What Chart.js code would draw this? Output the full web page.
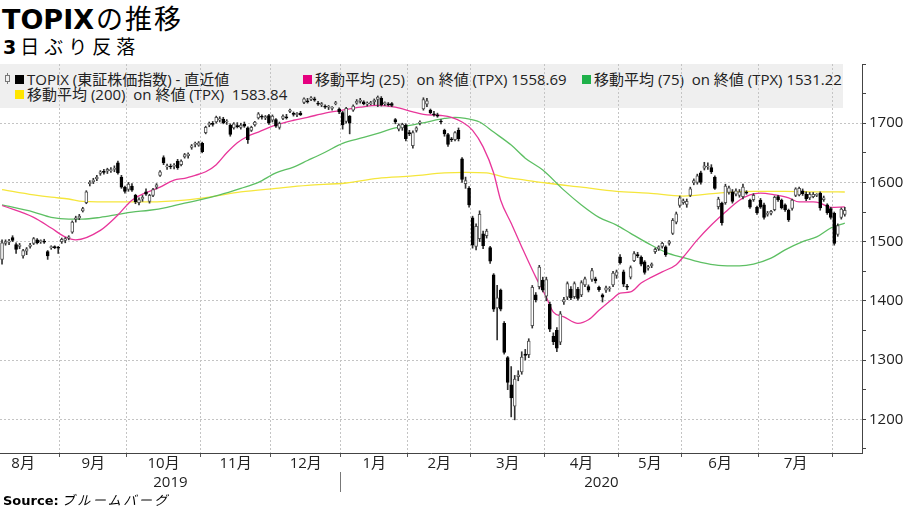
<!DOCTYPE html>
<html lang="ja">
<head>
<meta charset="utf-8">
<title>TOPIXの推移</title>
<script src="https://cdn.jsdelivr.net/npm/chart.js@4.4.1/dist/chart.umd.min.js"></script>
<style>
  html, body { margin: 0; padding: 0; background: #fff; }
  #wrap { position: relative; width: 909px; height: 511px; overflow: hidden;
          font-family: "Open Sans", "Noto Sans CJK JP", sans-serif; color: #000; }
  #title { position: absolute; left: 2px; top: 0px; font-size: 27px; line-height: 36px; white-space: nowrap; }
  #title b { font-family: "DejaVu Sans", sans-serif; font-weight: bold; }
  #title span { font-family: "Noto Sans CJK JP", sans-serif; letter-spacing: 2px; margin-left: 2px; }
  #subtitle { position: absolute; left: 3px; top: 33px; font-size: 19px; line-height: 26px; white-space: nowrap; }
  #subtitle b { font-family: "DejaVu Sans", sans-serif; font-weight: bold; }
  #subtitle span { font-family: "Noto Sans CJK JP", sans-serif; letter-spacing: 5px; margin-left: 4px; }
  #legendBox { position: absolute; left: 0; top: 64px; width: 843px; height: 44px; background: #efefef; }
  .lg { position: absolute; display: flex; align-items: center; font-size: 15px; line-height: 16px;
        white-space: nowrap; color: #222; }
  .sw { display: inline-block; width: 9px; height: 9px; margin-right: 3px; }
  .icon { position: absolute; left: 5px; top: 75px; width: 3px; height: 5px; border: 1px solid #777; }
  .icon::before, .icon::after { content: ""; position: absolute; left: 1px; width: 1px; height: 2px; background: #777; }
  .icon::before { top: -3px; }
  .icon::after { bottom: -3px; }
  #chart { position: absolute; left: 0; top: 0; }
  #source { position: absolute; left: 3px; top: 492px; font-size: 13px; line-height: 16px; white-space: nowrap; }
  #source b { font-family: "DejaVu Sans", sans-serif; }
  #source span { font-family: "Noto Sans CJK JP", sans-serif; font-style: italic; letter-spacing: 2.5px; margin-left: 3px; }
</style>
</head>
<body>
<div id="wrap">
  <div id="title"><b>TOPIX</b><span>の推移</span></div>
  <div id="subtitle"><b>3</b><span>日ぶり反落</span></div>

  <div id="legendBox"></div>
  <span class="icon"></span>
  <div class="lg" style="left:15px; top:71px;"><span class="sw" style="background:#000"></span>TOPIX (東証株価指数) - 直近値</div>
  <div class="lg" style="left:303px; top:71px;"><span class="sw" style="background:#e5007f"></span>移動平均 (25)&nbsp;&nbsp; on 終値 (TPX) 1558.69</div>
  <div class="lg" style="left:582px; top:71px;"><span class="sw" style="background:#1fb14a"></span>移動平均 (75)&nbsp; on 終値 (TPX) 1531.22</div>
  <div class="lg" style="left:15px; top:86px;"><span class="sw" style="background:#ffe500"></span>移動平均 (200)&nbsp; on 終値 (TPX)&nbsp; 1583.84</div>

  <canvas id="chart" width="909" height="511"></canvas>
  <div id="source"><b>Source:</b><span>ブルームバーグ</span></div>
</div>

<script>
// months shown on the axis, and how many trading days of each are in view
const monthLabels = ['8月', '9月', '10月', '11月', '12月', '1月', '2月', '3月', '4月', '5月', '6月', '7月'];
const monthDays = [17, 19, 21, 20, 20, 19, 18, 21, 21, 18, 22, 21, 4];
const firstMonthFullDays = 21;   // Aug 2019 is only partly visible
const yearLabels = ['2019', '2020'];

// price axis
const yTicks = [1150, 1200, 1250, 1300, 1350, 1400, 1450, 1500, 1550, 1600, 1650, 1700, 1750, 1800];
const yLabelled = [1200, 1300, 1400, 1500, 1600, 1700];

// daily candles [open, high, low, close], one per trading day
const candles = [
  // Aug 2019
  [1470,1503,1462,1498],[1497,1503,1494,1500],[1499,1504,1495,1501],[1507,1510,1500,1502],
  [1495,1498,1480,1487],[1492,1497,1488,1494],[1476,1487,1472,1485],[1484,1490,1478,1488],
  [1492,1497,1489,1494],[1497,1507,1495,1505],[1503,1505,1496,1498],[1500,1503,1497,1501],
  [1501,1504,1497,1499],[1483,1485,1470,1476],[1490,1493,1487,1491],[1491,1493,1488,1490],
  [1490,1492,1480,1489],
  // Sep
  [1500,1506,1497,1504],[1502,1507,1498,1505],[1506,1510,1503,1508],[1516,1535,1514,1533],
  [1538,1543,1533,1540],[1540,1546,1537,1543],[1552,1558,1550,1556],[1566,1586,1564,1584],
  [1598,1603,1594,1600],[1601,1607,1598,1604],[1606,1612,1603,1609],[1615,1620,1612,1618],
  [1618,1622,1614,1617],[1619,1624,1615,1622],[1620,1625,1617,1621],[1622,1628,1618,1624],
  [1633,1636,1614,1616],[1609,1612,1590,1592],[1592,1594,1582,1585],
  // Oct
  [1588,1600,1585,1597],[1594,1598,1585,1587],[1578,1580,1564,1567],[1566,1574,1562,1571],
  [1572,1578,1568,1575],[1584,1589,1578,1580],[1568,1580,1565,1578],[1578,1590,1576,1588],
  [1592,1598,1589,1596],[1612,1620,1610,1618],[1642,1645,1630,1633],[1626,1631,1622,1628],
  [1627,1631,1623,1626],[1627,1632,1623,1629],[1636,1639,1622,1625],[1630,1638,1628,1636],
  [1643,1649,1641,1647],[1645,1650,1641,1648],[1659,1664,1656,1662],[1664,1668,1660,1666],
  [1663,1669,1661,1667],
  // Nov
  [1666,1668,1650,1652],[1684,1695,1682,1693],[1697,1702,1694,1700],[1700,1703,1695,1698],
  [1702,1712,1700,1710],[1705,1711,1702,1708],[1707,1710,1699,1701],[1702,1706,1698,1703],
  [1697,1699,1678,1681],[1692,1701,1690,1699],[1696,1701,1692,1694],[1693,1700,1690,1697],
  [1698,1702,1693,1695],[1692,1694,1666,1672],[1688,1695,1686,1693],[1697,1703,1695,1702],
  [1709,1718,1707,1716],[1711,1714,1707,1710],[1709,1713,1706,1711],[1713,1715,1698,1700],
  // Dec
  [1705,1714,1702,1712],[1706,1708,1693,1695],[1693,1702,1690,1700],[1708,1714,1706,1712],
  [1710,1715,1707,1709],[1720,1724,1718,1722],[1716,1719,1712,1715],[1714,1718,1711,1717],
  [1717,1720,1713,1714],[1735,1743,1733,1741],[1738,1742,1734,1736],[1740,1745,1738,1743],
  [1741,1744,1737,1739],[1734,1737,1730,1732],[1731,1735,1728,1733],[1729,1731,1725,1727],
  [1727,1730,1723,1728],[1725,1728,1722,1726],[1733,1737,1731,1735],[1724,1726,1716,1719],
  // Jan 2020
  [1718,1720,1690,1697],[1703,1727,1700,1725],[1712,1713,1682,1700],[1722,1731,1720,1729],
  [1734,1740,1732,1737],[1737,1742,1734,1739],[1736,1738,1731,1733],[1732,1736,1729,1734],
  [1733,1737,1731,1735],[1736,1741,1731,1739],[1740,1746,1728,1744],[1742,1745,1729,1731],
  [1733,1736,1730,1734],[1732,1735,1729,1731],[1733,1735,1728,1730],[1706,1708,1699,1702],
  [1690,1699,1687,1697],[1692,1700,1688,1698],[1697,1699,1670,1674],
  // Feb
  [1684,1688,1679,1682],[1662,1687,1658,1684],[1688,1694,1685,1692],[1700,1704,1697,1702],
  [1724,1743,1722,1740],[1732,1742,1728,1738],[1722,1724,1716,1718],[1716,1720,1712,1714],
  [1714,1717,1710,1712],[1703,1706,1699,1702],[1688,1690,1678,1682],[1681,1683,1661,1664],
  [1673,1676,1669,1672],[1672,1686,1670,1684],[1688,1692,1670,1674],[1640,1642,1600,1605],
  [1598,1609,1590,1603],[1590,1593,1558,1562],
  // Mar
  [1540,1543,1489,1494],[1492,1530,1486,1526],[1505,1552,1500,1546],[1513,1518,1488,1493],
  [1510,1521,1506,1518],[1490,1492,1463,1467],[1444,1446,1382,1386],[1388,1426,1334,1405],
  [1418,1420,1383,1386],[1362,1365,1310,1313],[1304,1306,1250,1262],[1258,1289,1204,1236],
  [1222,1274,1199,1268],[1272,1282,1265,1275],[1280,1314,1276,1305],[1310,1318,1300,1308],
  [1309,1336,1304,1332],[1358,1426,1354,1423],[1410,1414,1398,1402],[1424,1460,1420,1457],
  [1435,1440,1415,1418],
  // Apr
  [1408,1440,1400,1436],[1394,1398,1348,1352],[1340,1346,1326,1331],[1350,1355,1314,1320],
  [1330,1382,1326,1378],[1398,1406,1394,1402],[1406,1432,1402,1429],[1420,1424,1402,1405],
  [1407,1432,1404,1429],[1420,1423,1401,1404],[1410,1434,1407,1431],[1427,1440,1424,1437],
  [1424,1427,1415,1418],[1436,1455,1433,1451],[1437,1440,1430,1434],[1423,1425,1416,1419],
  [1410,1412,1398,1406],[1418,1425,1414,1422],[1420,1424,1416,1421],[1427,1450,1424,1447],
  [1443,1452,1438,1449],
  // May
  [1474,1478,1462,1464],[1449,1452,1424,1428],[1425,1428,1419,1423],[1440,1459,1437,1456],
  [1468,1483,1466,1480],[1478,1482,1473,1476],[1474,1476,1459,1462],[1466,1468,1445,1448],
  [1455,1460,1452,1458],[1459,1464,1456,1462],[1483,1489,1480,1487],[1488,1493,1485,1491],
  [1492,1499,1489,1497],[1491,1493,1475,1478],[1497,1502,1494,1500],[1514,1539,1512,1536],
  [1533,1550,1530,1547],[1561,1577,1558,1574],
  // Jun
  [1566,1572,1563,1569],[1563,1572,1558,1568],[1578,1592,1576,1589],[1599,1606,1596,1603],
  [1600,1614,1597,1611],[1616,1619,1597,1600],[1624,1634,1621,1628],[1626,1633,1622,1627],
  [1625,1630,1615,1618],[1609,1611,1588,1590],[1559,1575,1555,1572],[1565,1567,1528,1532],
  [1566,1597,1563,1594],[1583,1594,1580,1591],[1584,1588,1565,1568],[1580,1589,1577,1586],
  [1578,1588,1575,1584],[1576,1597,1572,1592],[1583,1586,1580,1582],[1570,1572,1556,1558],
  [1571,1581,1568,1578],[1558,1560,1546,1549],
  // Jul
  [1570,1573,1556,1558],[1562,1565,1538,1541],[1546,1551,1543,1548],[1548,1553,1545,1551],
  [1554,1577,1552,1575],[1576,1578,1568,1571],[1570,1572,1555,1557],[1562,1564,1551,1554],
  [1553,1555,1534,1537],[1556,1572,1553,1570],[1578,1591,1576,1589],[1579,1592,1577,1590],
  [1586,1589,1578,1581],[1580,1584,1569,1572],[1574,1583,1571,1580],[1576,1583,1574,1580],
  [1578,1581,1576,1579],[1582,1584,1553,1557],[1571,1577,1568,1574],[1562,1564,1546,1549],
  [1556,1558,1538,1541],
  // Aug 2020
  [1548,1550,1494,1497],[1512,1530,1509,1527],[1541,1557,1538,1555],[1546,1558,1543,1553]
];

// moving averages: [trading-day index, value]
const ma25 = [
  [0,1561],[9,1541],[14,1523],[18,1508],[21,1503],[28,1519],[33,1545],[37,1570],[45,1592],
  [49,1604],[52,1607],[55,1612],[58,1618],[61,1630],[64,1650],[67,1667],[70,1678],[73,1685],
  [78,1697],[83,1705],[87,1710],[92,1717],[97,1722],[102,1727],[107,1730],[112,1727],
  [117,1719],[120,1715],[125,1713],[128,1710],[131,1702],[134,1688],[137,1660],[140,1616],
  [142,1570],[145,1531],[148,1491],[152,1440],[155,1406],[157,1381],[160,1373],[164,1362],
  [167,1368],[170,1384],[174,1404],[176,1413],[179,1415],[182,1430],[185,1440],[188,1449],
  [192,1461],[194,1474],[198,1503],[202,1528],[206,1550],[210,1570],[213,1579],[216,1582],
  [220,1579],[224,1574],[227,1567],[231,1567],[233,1565],[236,1558],[240,1558.69]
];
const ma75 = [
  [0,1562],[9,1550],[14,1541],[19,1538],[23,1538],[28,1541],[33,1546],[37,1550],[42,1553],
  [47,1558],[52,1565],[56,1570],[62,1579],[68,1590],[73,1600],[78,1616],[83,1626],[87,1637],
  [92,1651],[97,1666],[103,1676],[107,1683],[112,1692],[117,1697],[121,1702],[126,1708],
  [129,1710],[132,1708],[136,1702],[140,1685],[145,1663],[149,1641],[154,1621],[160,1587],
  [165,1562],[170,1541],[175,1528],[179,1514],[184,1497],[189,1482],[194,1473],[199,1465],
  [204,1460],[210,1459],[214,1462],[219,1472],[223,1486],[228,1500],[232,1508],[236,1523],
  [240,1531.22]
];
const ma200 = [
  [0,1588],[9,1579],[14,1575],[19,1572],[23,1568],[33,1567],[42,1567],[52,1570],[59,1575],
  [68,1584],[78,1590],[87,1595],[98,1599],[107,1607],[117,1611],[126,1616],[132,1617],
  [138,1616],[143,1609],[149,1604],[155,1599],[165,1592],[175,1585],[184,1582],[194,1577],
  [204,1582],[214,1585],[223,1585],[232,1584],[240,1583.84]
];

const X_MIN = -0.58;
const X_MAX = 244.9;

// month boundaries sit half a day before the first trading day of each month
const bounds = [];
let acc = 0;
monthDays.forEach((n, k) => {
    if (k > 0) bounds.push(acc - 0.5);
    acc += n;
});
const monthCenters = monthLabels.map((m, k) => {
    const start = k === 0 ? monthDays[0] - firstMonthFullDays - 0.5 : bounds[k - 1];
    return (start + bounds[k]) / 2;
});
const monthLabelAt = new Map(monthCenters.map((v, k) => [v, monthLabels[k]]));
const boundSet = new Set(bounds);
const monthTicks = [...bounds, ...monthCenters].sort((a, b) => a - b);

const yearBound = bounds[4];
const yearCenters = [(X_MIN + yearBound) / 2, (yearBound + X_MAX) / 2];
const yearLabelAt = new Map(yearCenters.map((v, k) => [v, yearLabels[k]]));

const tickFont = {family: '"Open Sans", "Noto Sans CJK JP", sans-serif', size: 15};

const isUp = ctx => ctx.raw && ctx.raw.y[1] >= ctx.raw.y[0];
const tickVal = ctx => (ctx.tick ? ctx.tick.value : NaN);

new Chart(document.getElementById('chart'), {
    type: 'bar',
    data: {
        datasets: [
            {
                label: 'body',
                data: candles.map((c, i) => ({x: i, y: [c[0], c[3]]})),
                backgroundColor: ctx => isUp(ctx) ? '#ffffff' : '#000000',
                borderColor: ctx => isUp(ctx) ? '#555555' : '#000000',
                borderWidth: 1,
                borderSkipped: false,
                barThickness: 3,
                minBarLength: 1,
                grouped: false,
                order: 0
            },
            {
                label: 'wick',
                data: candles.map((c, i) => ({x: i, y: [c[2], c[1]]})),
                backgroundColor: '#333333',
                barThickness: 1,
                grouped: false,
                order: 1
            },
            {
                type: 'line',
                label: 'ma25',
                data: ma25.map(p => ({x: p[0], y: p[1]})),
                borderColor: '#e8369a',
                borderWidth: 1.3,
                pointRadius: 0,
                cubicInterpolationMode: 'monotone',
                order: 2
            },
            {
                type: 'line',
                label: 'ma75',
                data: ma75.map(p => ({x: p[0], y: p[1]})),
                borderColor: '#5dbf63',
                borderWidth: 1.3,
                pointRadius: 0,
                cubicInterpolationMode: 'monotone',
                order: 3
            },
            {
                type: 'line',
                label: 'ma200',
                data: ma200.map(p => ({x: p[0], y: p[1]})),
                borderColor: '#f5e63c',
                borderWidth: 1.3,
                pointRadius: 0,
                cubicInterpolationMode: 'monotone',
                order: 4
            }
        ]
    },
    options: {
        responsive: false,
        animation: false,
        layout: {padding: {top: 64, bottom: 19, left: 0, right: 0}},
        plugins: {
            legend: {display: false},
            tooltip: {enabled: false}
        },
        scales: {
            x: {
                type: 'linear',
                position: 'bottom',
                weight: 1,
                min: X_MIN,
                max: X_MAX,
                offset: false,
                afterBuildTicks: s => { s.ticks = monthTicks.map(v => ({value: v})); },
                afterFit: s => { s.height = 19; },
                grid: {
                    offset: false,
                    color: ctx => boundSet.has(tickVal(ctx)) ? '#c4c4c4' : 'transparent',
                    tickColor: ctx => boundSet.has(tickVal(ctx)) ? '#555555' : 'transparent',
                    tickLength: 4
                },
                border: {color: '#444444', dash: [2, 2]},
                ticks: {
                    autoSkip: false,
                    maxRotation: 0,
                    padding: -2,
                    color: '#222222',
                    font: tickFont,
                    callback: v => monthLabelAt.get(v) || ''
                }
            },
            xYear: {
                type: 'linear',
                position: 'bottom',
                weight: 2,
                min: X_MIN,
                max: X_MAX,
                offset: false,
                afterBuildTicks: s => {
                    s.ticks = [yearCenters[0], yearBound, yearCenters[1]].map(v => ({value: v}));
                },
                afterFit: s => { s.height = 20; },
                grid: {
                    offset: false,
                    drawOnChartArea: false,
                    tickLength: 20,
                    tickColor: ctx => tickVal(ctx) === yearBound ? '#777777' : 'transparent'
                },
                border: {display: false},
                ticks: {
                    autoSkip: false,
                    maxRotation: 0,
                    padding: -18,
                    color: '#222222',
                    font: tickFont,
                    callback: v => yearLabelAt.get(v) || ''
                }
            },
            y: {
                type: 'linear',
                position: 'right',
                min: 1143,
                max: 1800,
                afterBuildTicks: s => { s.ticks = yTicks.map(v => ({value: v})); },
                afterFit: s => { s.width = 47; },
                grid: {
                    color: ctx => yLabelled.includes(tickVal(ctx)) ? '#c4c4c4' : 'transparent',
                    tickColor: '#444444',
                    tickLength: 4
                },
                border: {color: '#444444', dash: [2, 2]},
                ticks: {
                    padding: 3,
                    color: '#222222',
                    font: tickFont,
                    callback: v => yLabelled.includes(v) ? String(v) : ''
                }
            }
        }
    }
});
</script>
</body>
</html>
